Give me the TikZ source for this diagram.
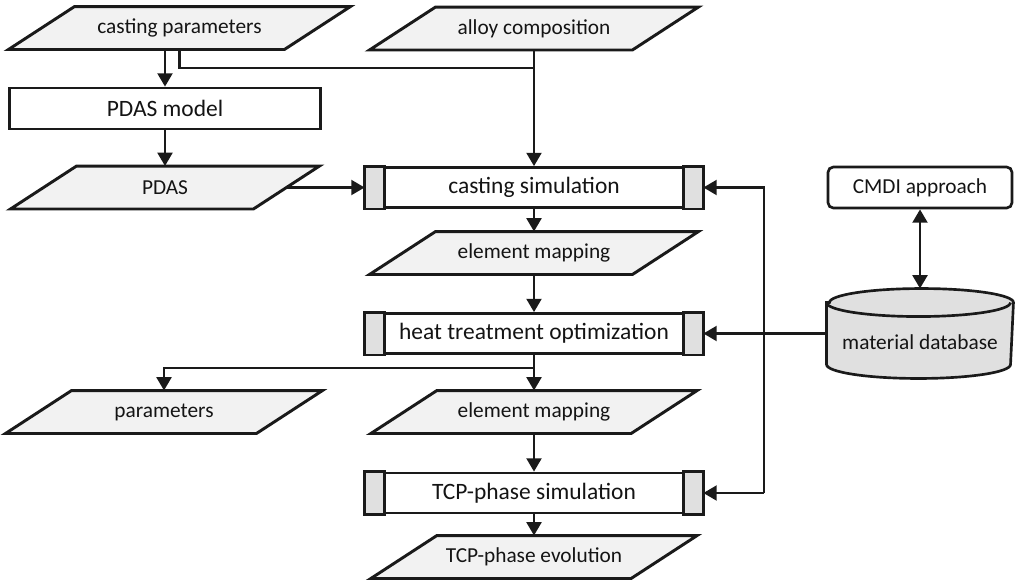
\documentclass[tikz,border=0pt]{standalone}
\usepackage{fontspec}
\setmainfont{Carlito}
\usetikzlibrary{arrows.meta,backgrounds,calc}
\definecolor{lineC}{HTML}{1A1A1A}
\definecolor{paraF}{HTML}{F2F2F2}
\definecolor{barF}{HTML}{E0E0E0}
\definecolor{txtC}{HTML}{141414}
\begin{document}
\begin{tikzpicture}[x=0.75pt,y=-0.75pt,
  font=\fontsize{16}{19}\selectfont, text=txtC,
  line width=2.2pt,
  shapeline/.style={draw=lineC, line width=2pt},
  para/.style={minimum height=30pt, inner sep=0pt},
  procfont/.style={font=\fontsize{17.6}{20}\selectfont},
  proc/.style={procfont, shapeline, fill=white, minimum width=233.25pt, minimum height=30.75pt, inner sep=0pt},
  simbox/.style={procfont, shapeline, fill=white, minimum width=252pt, minimum height=30pt, inner sep=0pt},
  cmdibox/.style={shapeline, fill=white, rounded corners=4pt, minimum width=138pt, minimum height=30.75pt, inner sep=0pt},
  conn/.style={draw=lineC, line width=2.2pt},
  arr/.style={conn, -{Triangle[length=10pt,width=11pt]}},
  arrtwo/.style={conn, {Triangle[length=10pt,width=11pt]}-{Triangle[length=10pt,width=11pt]}}
]
\useasboundingbox (0,0) rectangle (1024,579);

% data (parallelogram) nodes
\node[para, minimum width=204.75pt] (castpar) at (179.5,28) {casting parameters};
\node[para, minimum width=195pt] (alloy) at (534,28.5) {alloy composition};
\node[para, minimum width=180pt] (pdas) at (165,187.5) {PDAS};
\node[para, minimum width=195pt] (em1) at (534,253) {element mapping};
\node[para, minimum width=186pt] (params) at (164,412) {parameters};
\node[para, minimum width=193pt] (em2) at (534,412) {element mapping};
\node[para, minimum width=193pt] (tcpev) at (534,557) {TCP-phase evolution};

% process nodes
\node[proc] (pdasm) at (165,108.5) {PDAS model};
\node[simbox] (cast) at (534,187.5) {casting simulation};
\node[simbox] (heat) at (534,333.5) {heat treatment optimization};
\node[simbox] (tcp) at (534,493) {TCP-phase simulation};
\node[cmdibox] (cmdi) at (920,187.5) {CMDI approach};

% database cylinder
\node[minimum width=138pt, minimum height=65.25pt, inner sep=0pt] (db) at (920,333.5) {};
\node[inner sep=0pt] (dbtext) at (920,342) {material database};

\begin{scope}[on background layer]
  \foreach \n in {castpar,alloy,pdas,em1,params,em2,tcpev}{
    \filldraw[shapeline, line width=2.2pt, fill=paraF] ($(\n.south west)+(-24.75pt,0)$) -- ($(\n.south east)+(-24.75pt,0)$)
      -- ($(\n.north east)+(24.75pt,0)$) -- ($(\n.north west)+(24.75pt,0)$) -- cycle;
  }
  \filldraw[shapeline, fill=barF] ($(db.north west)+(0,-10.5pt)$) -- ($(db.south west)+(0,10.5pt)$)
    arc[start angle=180,end angle=360,x radius=69pt,y radius=10.5pt]
    -- ($(db.north east)+(0,-10.5pt)$)
    arc[start angle=0,end angle=180,x radius=69pt,y radius=10.5pt] -- cycle;
  \draw[shapeline] ($(db.north west)+(0,-10.5pt)$) arc[start angle=180,end angle=360,x radius=69pt,y radius=10.5pt];
\end{scope}

% side bars of the simulation boxes
\foreach \n in {cast,heat,tcp}{
  \filldraw[shapeline, fill=barF] (\n.north west) rectangle ($(\n.south west)+(15pt,0)$);
  \filldraw[shapeline, fill=barF] ($(\n.north east)+(-15pt,0)$) rectangle (\n.south east);
}

% connectors
\coordinate (j1) at (534,68);
\coordinate (j2) at (534,368);
\coordinate (busT) at (764,187.5);
\coordinate (busB) at (764,493);

\draw[arr] (pdasm.north |- castpar.south) -- (pdasm.north);
\draw[conn] (castpar.south) |- (j1);
\draw[arr] (alloy.south) -- (cast.north);
\draw[arr] (pdasm.south) -- (pdas.north);
\draw[arr] (pdas.east) -- (cast.west);
\draw[arr] (cast.south) -- (em1.north);
\draw[arr] (em1.south) -- (heat.north);
\draw[arr] (heat.south) -- (em2.north);
\draw[arr] (j2) -| (params.north);
\draw[arr] (em2.south) -- (tcp.north);
\draw[arr] (tcp.south) -- (tcpev.north);
\draw[arrtwo] (cmdi.south) -- (db.north);
\draw[arr] (db.west) -- (heat.east);
\draw[arr] (busB) -- (busT) -- (cast.east);
\draw[arr] (busB) -- (tcp.east);
\end{tikzpicture}
\end{document}
